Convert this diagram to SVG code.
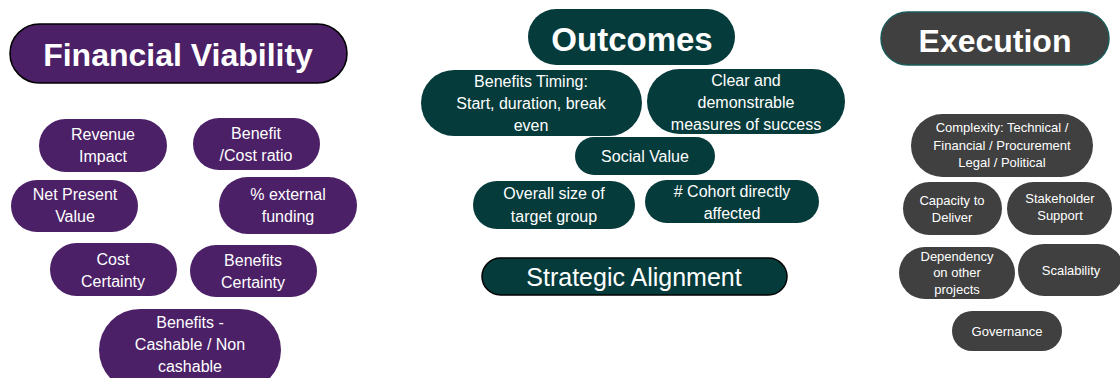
<svg xmlns="http://www.w3.org/2000/svg" width="1120" height="378" viewBox="0 0 1120 378">
  <style>
    text { font-family: "Liberation Sans", Arial, sans-serif; fill: #ffffff; text-anchor: middle; }
    .fin { fill: #4b2067; }
    .out { fill: #063b3b; }
    .exe { fill: #404040; }
    .head { font-weight: bold; font-size: 32px; }
    .t16 { font-size: 16px; }
    .t13 { font-size: 13px; }
  </style>
  <rect width="1120" height="378" fill="#ffffff"/>

  <!-- Financial Viability column -->
  <g id="financial-viability">
    <rect class="fin" x="10" y="24" width="337" height="59" rx="29.5" stroke="#000" stroke-width="1.5"/>
    <text class="head" x="178" y="66">Financial Viability</text>
  </g>
  <g id="revenue-impact">
    <rect class="fin" x="39" y="119" width="128" height="53" rx="26.5"/>
    <text class="t16" x="103" y="140">Revenue</text>
    <text class="t16" x="103" y="162">Impact</text>
  </g>
  <g id="benefit-cost-ratio">
    <rect class="fin" x="193" y="118" width="127" height="52" rx="26"/>
    <text class="t16" x="256" y="139">Benefit</text>
    <text class="t16" x="256" y="161">/Cost ratio</text>
  </g>
  <g id="net-present-value">
    <rect class="fin" x="11" y="180" width="127" height="52" rx="26"/>
    <text class="t16" x="75" y="200">Net Present</text>
    <text class="t16" x="75" y="222">Value</text>
  </g>
  <g id="external-funding">
    <rect class="fin" x="219" y="177" width="138" height="57" rx="28.5"/>
    <text class="t16" x="288" y="200">% external</text>
    <text class="t16" x="288" y="222">funding</text>
  </g>
  <g id="cost-certainty">
    <rect class="fin" x="50" y="243" width="127" height="53" rx="26.5"/>
    <text class="t16" x="113" y="265">Cost</text>
    <text class="t16" x="113" y="287">Certainty</text>
  </g>
  <g id="benefits-certainty">
    <rect class="fin" x="190" y="245" width="127" height="52" rx="26"/>
    <text class="t16" x="253" y="266">Benefits</text>
    <text class="t16" x="253" y="288">Certainty</text>
  </g>
  <g id="benefits-cashable">
    <rect class="fin" x="99" y="309" width="182" height="82" rx="41"/>
    <text class="t16" x="190" y="328">Benefits -</text>
    <text class="t16" x="190" y="350">Cashable / Non</text>
    <text class="t16" x="190" y="372">cashable</text>
  </g>

  <!-- Outcomes column -->
  <g id="outcomes">
    <rect class="out" x="528" y="9" width="207" height="56" rx="28"/>
    <text class="head" x="632" y="51" style="font-size:33px">Outcomes</text>
  </g>
  <g id="benefits-timing">
    <rect class="out" x="421" y="70" width="221" height="66" rx="33"/>
    <text class="t16" x="531" y="87">Benefits Timing:</text>
    <text class="t16" x="531" y="109">Start, duration, break</text>
    <text class="t16" x="531" y="131">even</text>
  </g>
  <g id="measures-of-success">
    <rect class="out" x="647" y="69" width="198" height="65" rx="32.5"/>
    <text class="t16" x="746" y="86">Clear and</text>
    <text class="t16" x="746" y="108">demonstrable</text>
    <text class="t16" x="746" y="130">measures of success</text>
  </g>
  <g id="social-value">
    <rect class="out" x="575" y="137" width="140" height="38" rx="19"/>
    <text class="t16" x="645" y="162">Social Value</text>
  </g>
  <g id="target-group">
    <rect class="out" x="473" y="181" width="162" height="48" rx="24"/>
    <text class="t16" x="554" y="199">Overall size of</text>
    <text class="t16" x="554" y="222">target group</text>
  </g>
  <g id="cohort-affected">
    <rect class="out" x="645" y="180" width="174" height="43" rx="21.5"/>
    <text class="t16" x="732" y="197"># Cohort directly</text>
    <text class="t16" x="732" y="219">affected</text>
  </g>
  <g id="strategic-alignment">
    <rect class="out" x="482" y="258" width="305" height="37" rx="18.5" stroke="#000" stroke-width="1.5"/>
    <text x="634" y="286" style="font-size:25px">Strategic Alignment</text>
  </g>

  <!-- Execution column -->
  <g id="execution">
    <rect class="exe" x="881" y="12" width="228" height="53" rx="26.5" stroke="#1c5a5a" stroke-width="1.5"/>
    <text class="head" x="995" y="52">Execution</text>
  </g>
  <g id="complexity">
    <rect class="exe" x="911" y="114" width="182" height="63" rx="31.5"/>
    <text class="t13" x="1002" y="132">Complexity: Technical /</text>
    <text class="t13" x="1002" y="150">Financial / Procurement</text>
    <text class="t13" x="1002" y="167">Legal / Political</text>
  </g>
  <g id="capacity-to-deliver">
    <rect class="exe" x="903" y="182" width="99" height="53" rx="26.5"/>
    <text class="t13" x="952" y="205">Capacity to</text>
    <text class="t13" x="952" y="222">Deliver</text>
  </g>
  <g id="stakeholder-support">
    <rect class="exe" x="1007" y="182" width="105" height="53" rx="26.5"/>
    <text class="t13" x="1060" y="203">Stakeholder</text>
    <text class="t13" x="1060" y="220">Support</text>
  </g>
  <g id="dependency">
    <rect class="exe" x="899" y="247" width="116" height="52" rx="26"/>
    <text class="t13" x="957" y="261">Dependency</text>
    <text class="t13" x="957" y="277">on other</text>
    <text class="t13" x="957" y="294">projects</text>
  </g>
  <g id="scalability">
    <rect class="exe" x="1018" y="244" width="106" height="52" rx="26"/>
    <text class="t13" x="1071" y="275">Scalability</text>
  </g>
  <g id="governance">
    <rect class="exe" x="952" y="311" width="110" height="40" rx="20"/>
    <text class="t13" x="1007" y="336">Governance</text>
  </g>
</svg>
